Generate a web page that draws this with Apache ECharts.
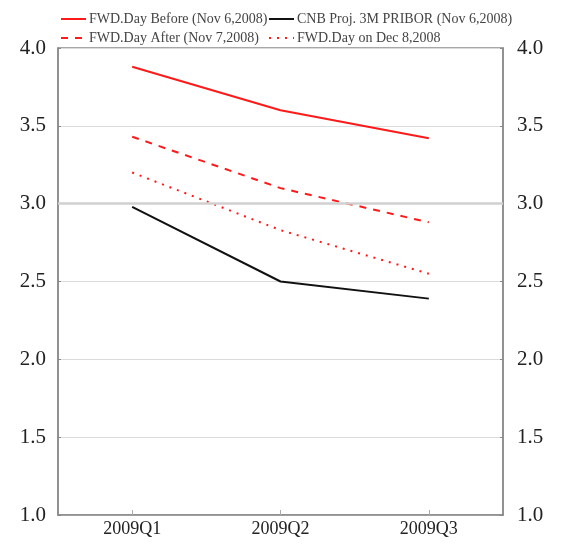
<!DOCTYPE html>
<html><head><meta charset="utf-8">
<script src="https://cdn.jsdelivr.net/npm/echarts@6/dist/echarts.min.js"></script>
<style>html,body{margin:0;padding:0;background:#fff}#c{width:565px;height:548px}</style>
</head><body><div id="c"></div>
<script>
const categories = ['2009Q1', '2009Q2', '2009Q3'];
const fwdBefore = [3.88, 3.60, 3.42];
const fwdAfter = [3.43, 3.10, 2.88];
const fwdDec = [3.20, 2.83, 2.55];
const cnbProj = [2.98, 2.50, 2.39];
const yTicks = [1.0, 1.5, 2.0, 2.5, 3.0, 3.5, 4.0];

const chart = echarts.init(document.getElementById('c'));
const serif = '"Liberation Serif", "DejaVu Serif", serif';
function yAxis(pos) {
  return {
    type: 'value', position: pos, min: yTicks[0], max: yTicks[yTicks.length - 1], interval: 0.5,
    axisLine: { show: true, lineStyle: { color: '#8a8a8a', width: 1.5 } },
    axisTick: { show: true, inside: true, length: 3, lineStyle: { color: '#8a8a8a' } },
    splitLine: { show: pos === 'left', lineStyle: { color: '#dcdcdc', width: 1 } },
    axisLabel: { fontFamily: serif, fontSize: 21, color: '#222', margin: pos === 'left' ? 12 : 14,
      formatter: v => v.toFixed(1) }
  };
}
function line(name, data, color, type) {
  return { name, type: 'line', data, symbol: 'none', yAxisIndex: 0,
    lineStyle: { color, width: 2, type }, itemStyle: { color } };
}
const legendBase = { top: 7, orient: 'vertical', itemGap: 5, itemWidth: 25, itemHeight: 14,
  itemStyle: { opacity: 0 },
  textStyle: { fontFamily: serif, fontSize: 14, color: '#444', padding: [0, 0, 0, -2] } };
chart.setOption({
  animation: false,
  backgroundColor: '#fff',
  grid: { left: 58, right: 62, top: 48, bottom: 33, show: true, borderColor: '#8a8a8a', borderWidth: 1.5 },
  legend: [
    Object.assign({ left: 55, data: ['FWD.Day Before (Nov 6,2008)', 'FWD.Day After (Nov 7,2008)'] }, legendBase),
    Object.assign({ left: 263, data: ['CNB Proj. 3M PRIBOR (Nov 6,2008)', 'FWD.Day on Dec 8,2008'] }, legendBase)
  ],
  xAxis: {
    type: 'category', data: categories, boundaryGap: true,
    axisLine: { show: true, lineStyle: { color: '#8a8a8a', width: 1.5 } },
    axisTick: { show: true, inside: true, alignWithLabel: true, length: 5, lineStyle: { color: '#aaa' } },
    axisLabel: { fontFamily: serif, fontSize: 18, color: '#222', margin: 5 }
  },
  yAxis: [yAxis('left'), yAxis('right')],
  series: [
    Object.assign(line('FWD.Day Before (Nov 6,2008)', fwdBefore, '#ff1a1a', 'solid'), {
      markLine: { silent: true, symbol: 'none', label: { show: false },
        lineStyle: { color: '#d0d0d0', width: 2.5, type: 'solid' }, data: [{ yAxis: 3.0 }] } }),
    line('CNB Proj. 3M PRIBOR (Nov 6,2008)', cnbProj, '#111', 'solid'),
    line('FWD.Day After (Nov 7,2008)', fwdAfter, '#ff1a1a', [7, 7]),
    line('FWD.Day on Dec 8,2008', fwdDec, '#ff1a1a', [2, 6])
  ]
});
</script></body></html>
